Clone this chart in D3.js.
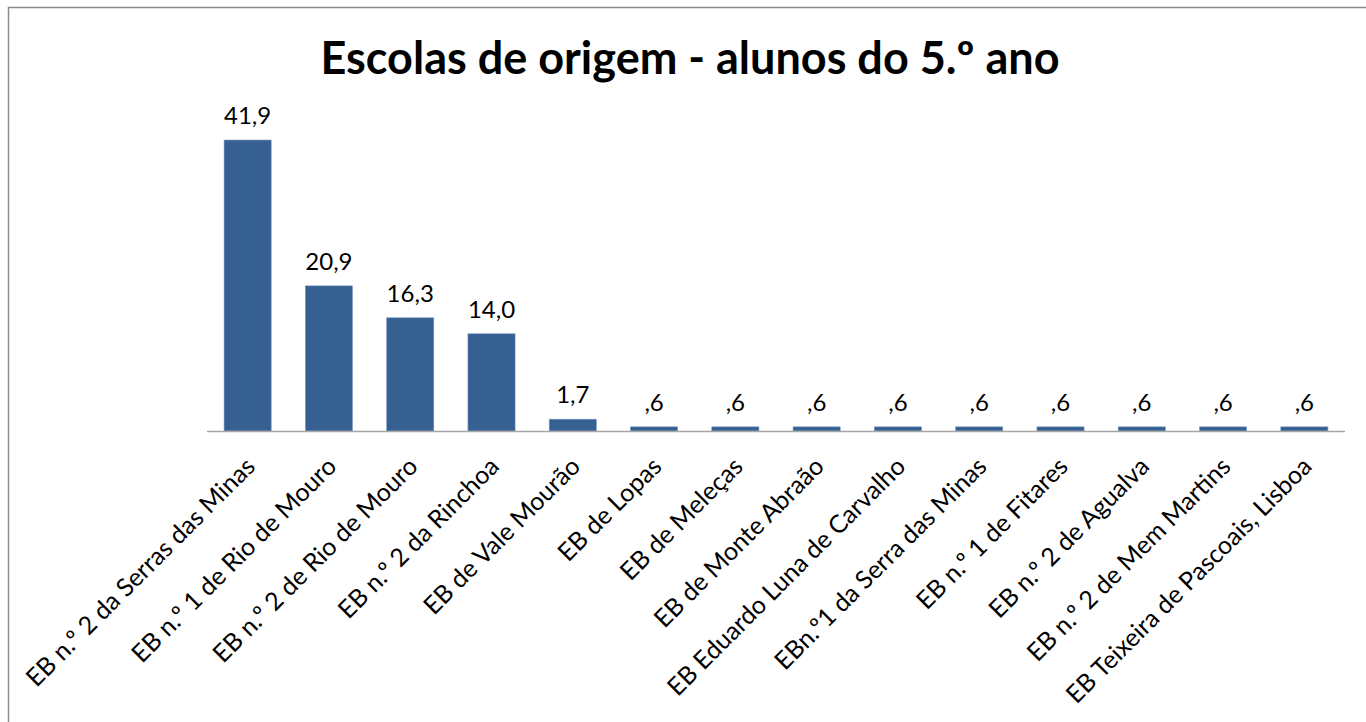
<!doctype html>
<html lang="pt">
  <head>
    <meta charset="utf-8">
    <title>Escolas de origem</title>
    <script src="https://d3js.org/d3.v7.min.js"></script>
    <style>
      body { margin: 0; background: #fff; }
      text { font-family: Lato, "Open Sans", sans-serif; }
    </style>
  </head>
  <body>
    <svg width="1366" height="722"></svg>
    <script>
      var schools = [
        'EB n.º 2 da Serras das Minas',
        'EB n.º 1 de Rio de Mouro',
        'EB n.º 2 de Rio de Mouro',
        'EB n.º 2 da Rinchoa',
        'EB de Vale Mourão',
        'EB de Lopas',
        'EB de Meleças',
        'EB de Monte Abraão',
        'EB Eduardo Luna de Carvalho',
        'EBn.º1 da Serra das Minas',
        'EB n.º 1 de Fitares',
        'EB n.º 2 de Agualva',
        'EB n.º 2 de Mem Martins',
        'EB Teixeira de Pascoais, Lisboa'
      ];
      var percents = [41.9, 20.9, 16.3, 14.0, 1.7, 0.6, 0.6, 0.6, 0.6, 0.6, 0.6, 0.6, 0.6, 0.6];

      var svg = d3.select('svg');

      // chart frame
      svg.append('rect')
        .attr('x', 8.5).attr('y', 7.5)
        .attr('width', 1400).attr('height', 760)
        .attr('fill', 'none')
        .attr('stroke', '#8c8c8c')
        .attr('stroke-width', 1.5);

      svg.append('text')
        .attr('x', 690).attr('y', 74)
        .attr('text-anchor', 'middle')
        .style('font-size', '45px')
        .style('font-weight', 'bold')
        .text('Escolas de origem - alunos do 5.º ano');

      var x = d3.scaleBand()
        .domain(schools)
        .range([207, 1345])
        .paddingInner(0.42)
        .paddingOuter(0.21);

      var y = d3.scaleLinear()
        .domain([0, 41.9])
        .range([431, 140]);

      var pt = d3.formatLocale({decimal: ',', thousands: '.', grouping: [3], currency: ['', ' €']});
      var fmt = function(v){ return pt.format('.1f')(v).replace(/^0/, ''); };

      svg.selectAll('rect.bar')
        .data(percents)
        .enter()
        .append('rect')
          .attr('class', 'bar')
          .attr('x', function(d, i){ return x(schools[i]); })
          .attr('y', function(d){ return y(d); })
          .attr('width', x.bandwidth())
          .attr('height', function(d){ return y(0) - y(d); })
          .attr('fill', '#376092')
          .attr('stroke', '#7d9bc3')
          .attr('stroke-width', 0.6);

      svg.selectAll('text.val')
        .data(percents)
        .enter()
        .append('text')
          .attr('class', 'val')
          .attr('x', function(d, i){ return x(schools[i]) + x.bandwidth() / 2; })
          .attr('y', function(d){ return y(d) - 16; })
          .attr('text-anchor', 'middle')
          .style('font-size', '24px')
          .text(fmt);

      svg.append('line')
        .attr('x1', 207).attr('x2', 1345)
        .attr('y1', 431.5).attr('y2', 431.5)
        .attr('stroke', '#a6a6a6')
        .attr('stroke-width', 1.5);

      svg.selectAll('text.cat')
        .data(schools)
        .enter()
        .append('text')
          .attr('class', 'cat')
          .attr('text-anchor', 'end')
          .attr('transform', function(d){
            return 'translate(' + (x(d) + x.bandwidth() / 2 + 9) + ',468) rotate(-45)';
          })
          .style('font-size', '25px')
          .text(function(d){ return d; });
    </script>
  </body>
</html>
